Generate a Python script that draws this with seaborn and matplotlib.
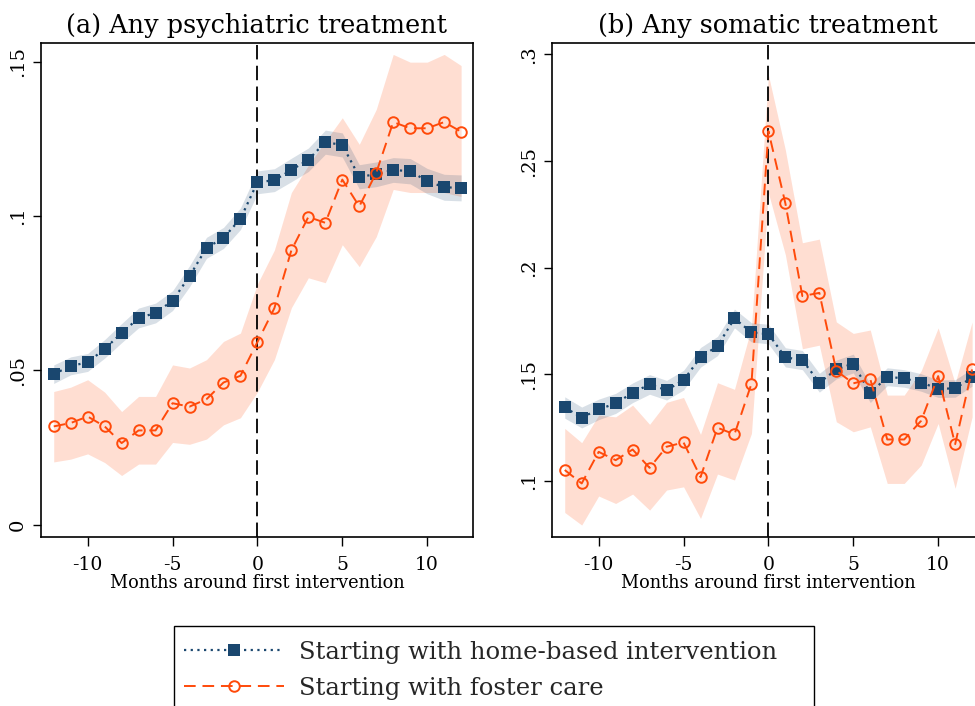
import matplotlib
matplotlib.use("Agg")
import matplotlib.pyplot as plt
from matplotlib.patches import Rectangle
from matplotlib.lines import Line2D
import numpy as np
import pandas as pd
import seaborn as sns

# Months relative to the first intervention
months = list(range(-12, 13))

# (a) Any psychiatric treatment
home_a = [0.0488, 0.0515, 0.0526, 0.0570, 0.0621, 0.0670, 0.0686, 0.0726, 0.0805, 0.0897,
          0.0929, 0.0991, 0.1109, 0.1116, 0.1149, 0.1182, 0.1239, 0.1230, 0.1127, 0.1135,
          0.1149, 0.1145, 0.1113, 0.1093, 0.1091]
home_a_lo = [0.0458, 0.0486, 0.0497, 0.0540, 0.0590, 0.0638, 0.0654, 0.0694, 0.0771, 0.0863,
             0.0895, 0.0956, 0.1072, 0.1079, 0.1111, 0.1144, 0.1200, 0.1191, 0.1088, 0.1095,
             0.1109, 0.1104, 0.1072, 0.1051, 0.1049]
home_a_hi = [0.0518, 0.0544, 0.0555, 0.0600, 0.0652, 0.0702, 0.0718, 0.0758, 0.0839, 0.0931,
             0.0963, 0.1026, 0.1146, 0.1153, 0.1187, 0.1220, 0.1278, 0.1269, 0.1166, 0.1175,
             0.1189, 0.1186, 0.1154, 0.1135, 0.1133]
foster_a = [0.0319, 0.0330, 0.0351, 0.0319, 0.0265, 0.0306, 0.0306, 0.0394, 0.0383, 0.0407,
            0.0461, 0.0483, 0.0592, 0.0702, 0.0889, 0.0997, 0.0978, 0.1118, 0.1031, 0.1140,
            0.1304, 0.1284, 0.1284, 0.1304, 0.1273]
foster_a_lo = [0.0204, 0.0213, 0.0230, 0.0202, 0.0160, 0.0197, 0.0197, 0.0267, 0.0261, 0.0278,
               0.0324, 0.0347, 0.0430, 0.0535, 0.0703, 0.0800, 0.0784, 0.0907, 0.0836, 0.0933,
               0.1086, 0.1076, 0.1076, 0.1076, 0.1063]
foster_a_hi = [0.0432, 0.0446, 0.0470, 0.0430, 0.0367, 0.0416, 0.0416, 0.0518, 0.0508, 0.0535,
               0.0594, 0.0621, 0.0780, 0.0890, 0.1076, 0.1164, 0.1242, 0.1318, 0.1232, 0.1345,
               0.1523, 0.1498, 0.1498, 0.1523, 0.1487]

# (b) Any somatic treatment
home_b = [0.1345, 0.1298, 0.1336, 0.1364, 0.1414, 0.1453, 0.1426, 0.1473, 0.1580, 0.1633,
          0.1762, 0.1697, 0.1689, 0.1580, 0.1567, 0.1461, 0.1523, 0.1551, 0.1411, 0.1489,
          0.1481, 0.1462, 0.1433, 0.1434, 0.1486]
home_b_lo = [0.1295, 0.1249, 0.1288, 0.1317, 0.1368, 0.1407, 0.1380, 0.1427, 0.1534, 0.1588,
             0.1718, 0.1652, 0.1643, 0.1535, 0.1522, 0.1417, 0.1479, 0.1507, 0.1368, 0.1447,
             0.1440, 0.1421, 0.1392, 0.1393, 0.1445]
home_b_hi = [0.1395, 0.1347, 0.1384, 0.1411, 0.1460, 0.1499, 0.1472, 0.1519, 0.1626, 0.1678,
             0.1806, 0.1742, 0.1735, 0.1625, 0.1612, 0.1505, 0.1567, 0.1595, 0.1454, 0.1531,
             0.1522, 0.1503, 0.1474, 0.1475, 0.1527]
foster_b = [0.1052, 0.0989, 0.1137, 0.1098, 0.1148, 0.1062, 0.1161, 0.1181, 0.1019, 0.1250,
            0.1219, 0.1456, 0.2640, 0.2301, 0.1867, 0.1882, 0.1517, 0.1458, 0.1478, 0.1195,
            0.1195, 0.1283, 0.1492, 0.1173, 0.1523]
foster_b_lo = [0.0853, 0.0794, 0.0930, 0.0895, 0.0939, 0.0864, 0.0958, 0.0973, 0.0825, 0.1033,
               0.1005, 0.1223, 0.2350, 0.2060, 0.1620, 0.1637, 0.1278, 0.1231, 0.1254, 0.0989,
               0.0989, 0.1075, 0.1270, 0.0966, 0.1301]
foster_b_hi = [0.1247, 0.1180, 0.1309, 0.1301, 0.1356, 0.1266, 0.1369, 0.1392, 0.1219, 0.1461,
               0.1430, 0.1720, 0.2903, 0.2551, 0.2117, 0.2134, 0.1746, 0.1692, 0.1708, 0.1403,
               0.1403, 0.1517, 0.1718, 0.1458, 0.1746]

titles = ["(a) Any psychiatric treatment", "(b) Any somatic treatment"]
xlabel = "Months around first intervention"
series_labels = ["Starting with home-based intervention", "Starting with foster care"]
x_ticks = [-10, -5, 0, 5, 10]
y_ticks_a = [0, 0.05, 0.10, 0.15]
y_ticklabels_a = ["0", ".05", ".1", ".15"]
y_ticks_b = [0.10, 0.15, 0.20, 0.25, 0.30]
y_ticklabels_b = [".1", ".15", ".2", ".25", ".3"]

NAVY = "#1a476f"
ORANGE = "#ff4a0a"

sns.set_theme(style="ticks")
plt.rcParams["font.family"] = ["DejaVu Serif"]
plt.rcParams["mathtext.fontset"] = "dejavuserif"

fig = plt.figure(figsize=(9.75, 7.06), dpi=100)
W, H = 975, 706


def px_axes(left, top, right, bottom):
    return fig.add_axes([left / W, 1 - bottom / H, (right - left) / W, (bottom - top) / H])


ax_a = px_axes(41, 43, 473, 537)
ax_b = px_axes(552, 43, 984, 537)

panels = [
    (ax_a, home_a, home_a_lo, home_a_hi, foster_a, foster_a_lo, foster_a_hi,
     (-0.0039, 0.156), y_ticks_a, y_ticklabels_a),
    (ax_b, home_b, home_b_lo, home_b_hi, foster_b, foster_b_lo, foster_b_hi,
     (0.0738, 0.3053), y_ticks_b, y_ticklabels_b),
]

for i, (ax, h, hlo, hhi, f, flo, fhi, ylim, yt, ytl) in enumerate(panels):
    df = pd.DataFrame({"month": months, "home": h, "foster": f})
    # confidence bands
    ax.fill_between(months, flo, fhi, color=ORANGE, alpha=0.18, linewidth=0, zorder=1)
    ax.fill_between(months, hlo, hhi, color=NAVY, alpha=0.17, linewidth=0, zorder=2)
    ax.axvline(0, color="black", linewidth=1.3, linestyle=(0, (8, 3.5)), zorder=3)
    sns.lineplot(data=df, x="month", y="home", ax=ax, color=NAVY, linewidth=1.6,
                 linestyle=(0, (1, 2)), marker="s", markersize=8.2,
                 markeredgewidth=0, markerfacecolor=NAVY, zorder=4)
    sns.lineplot(data=df, x="month", y="foster", ax=ax, color=ORANGE, linewidth=1.4,
                 linestyle=(0, (6, 3.5)), marker="o", markersize=7.6,
                 markeredgewidth=1.4, markerfacecolor="none", markeredgecolor=ORANGE,
                 zorder=5)
    ax.set_xlim(-12.75, 12.7)
    ax.set_ylim(*ylim)
    ax.set_xticks(x_ticks)
    ax.set_xticklabels([str(t) for t in x_ticks])
    ax.set_yticks(yt)
    ax.set_yticklabels(ytl, rotation=90, va="center")
    ax.tick_params(axis="x", direction="out", length=6.5, width=1.0, colors="black",
                   labelsize=13.5, pad=7.5)
    ax.tick_params(axis="y", direction="out", length=6, width=1.0, colors="black",
                   labelsize=14, pad=4)
    ax.set_xlabel(xlabel, fontsize=12.8, labelpad=0, color="black")
    ax.set_ylabel("")
    ax.set_title(titles[i], fontsize=18.4, pad=7.5, color="black")
    for sp in ax.spines.values():
        sp.set_visible(True)
        sp.set_color("black")
        sp.set_linewidth(1.2)
    ax.set_facecolor("white")

handles = [
    Line2D([], [], color=NAVY, linewidth=1.6, linestyle=(0, (1, 2)), marker="s",
           markersize=8.2, markeredgewidth=0, markerfacecolor=NAVY),
    Line2D([], [], color=ORANGE, linewidth=1.4, linestyle=(0, (6, 3.5)), marker="o",
           markersize=7.6, markeredgewidth=1.4, markerfacecolor="none",
           markeredgecolor=ORANGE),
]
fig.legend(handles, series_labels, loc="upper left",
           bbox_to_anchor=(184 / W, 1 - 641 / H), frameon=False, fontsize=17.5,
           handlelength=4.1, handletextpad=0.62, labelspacing=0.53, numpoints=1,
           borderaxespad=0, borderpad=0)
fig.patches.append(Rectangle((174 / W, -0.05), (814 - 174) / W, (706 - 626) / H + 0.05,
                             transform=fig.transFigure, fill=False, edgecolor="black",
                             linewidth=1.0))

fig.savefig("out.png", dpi=100)
